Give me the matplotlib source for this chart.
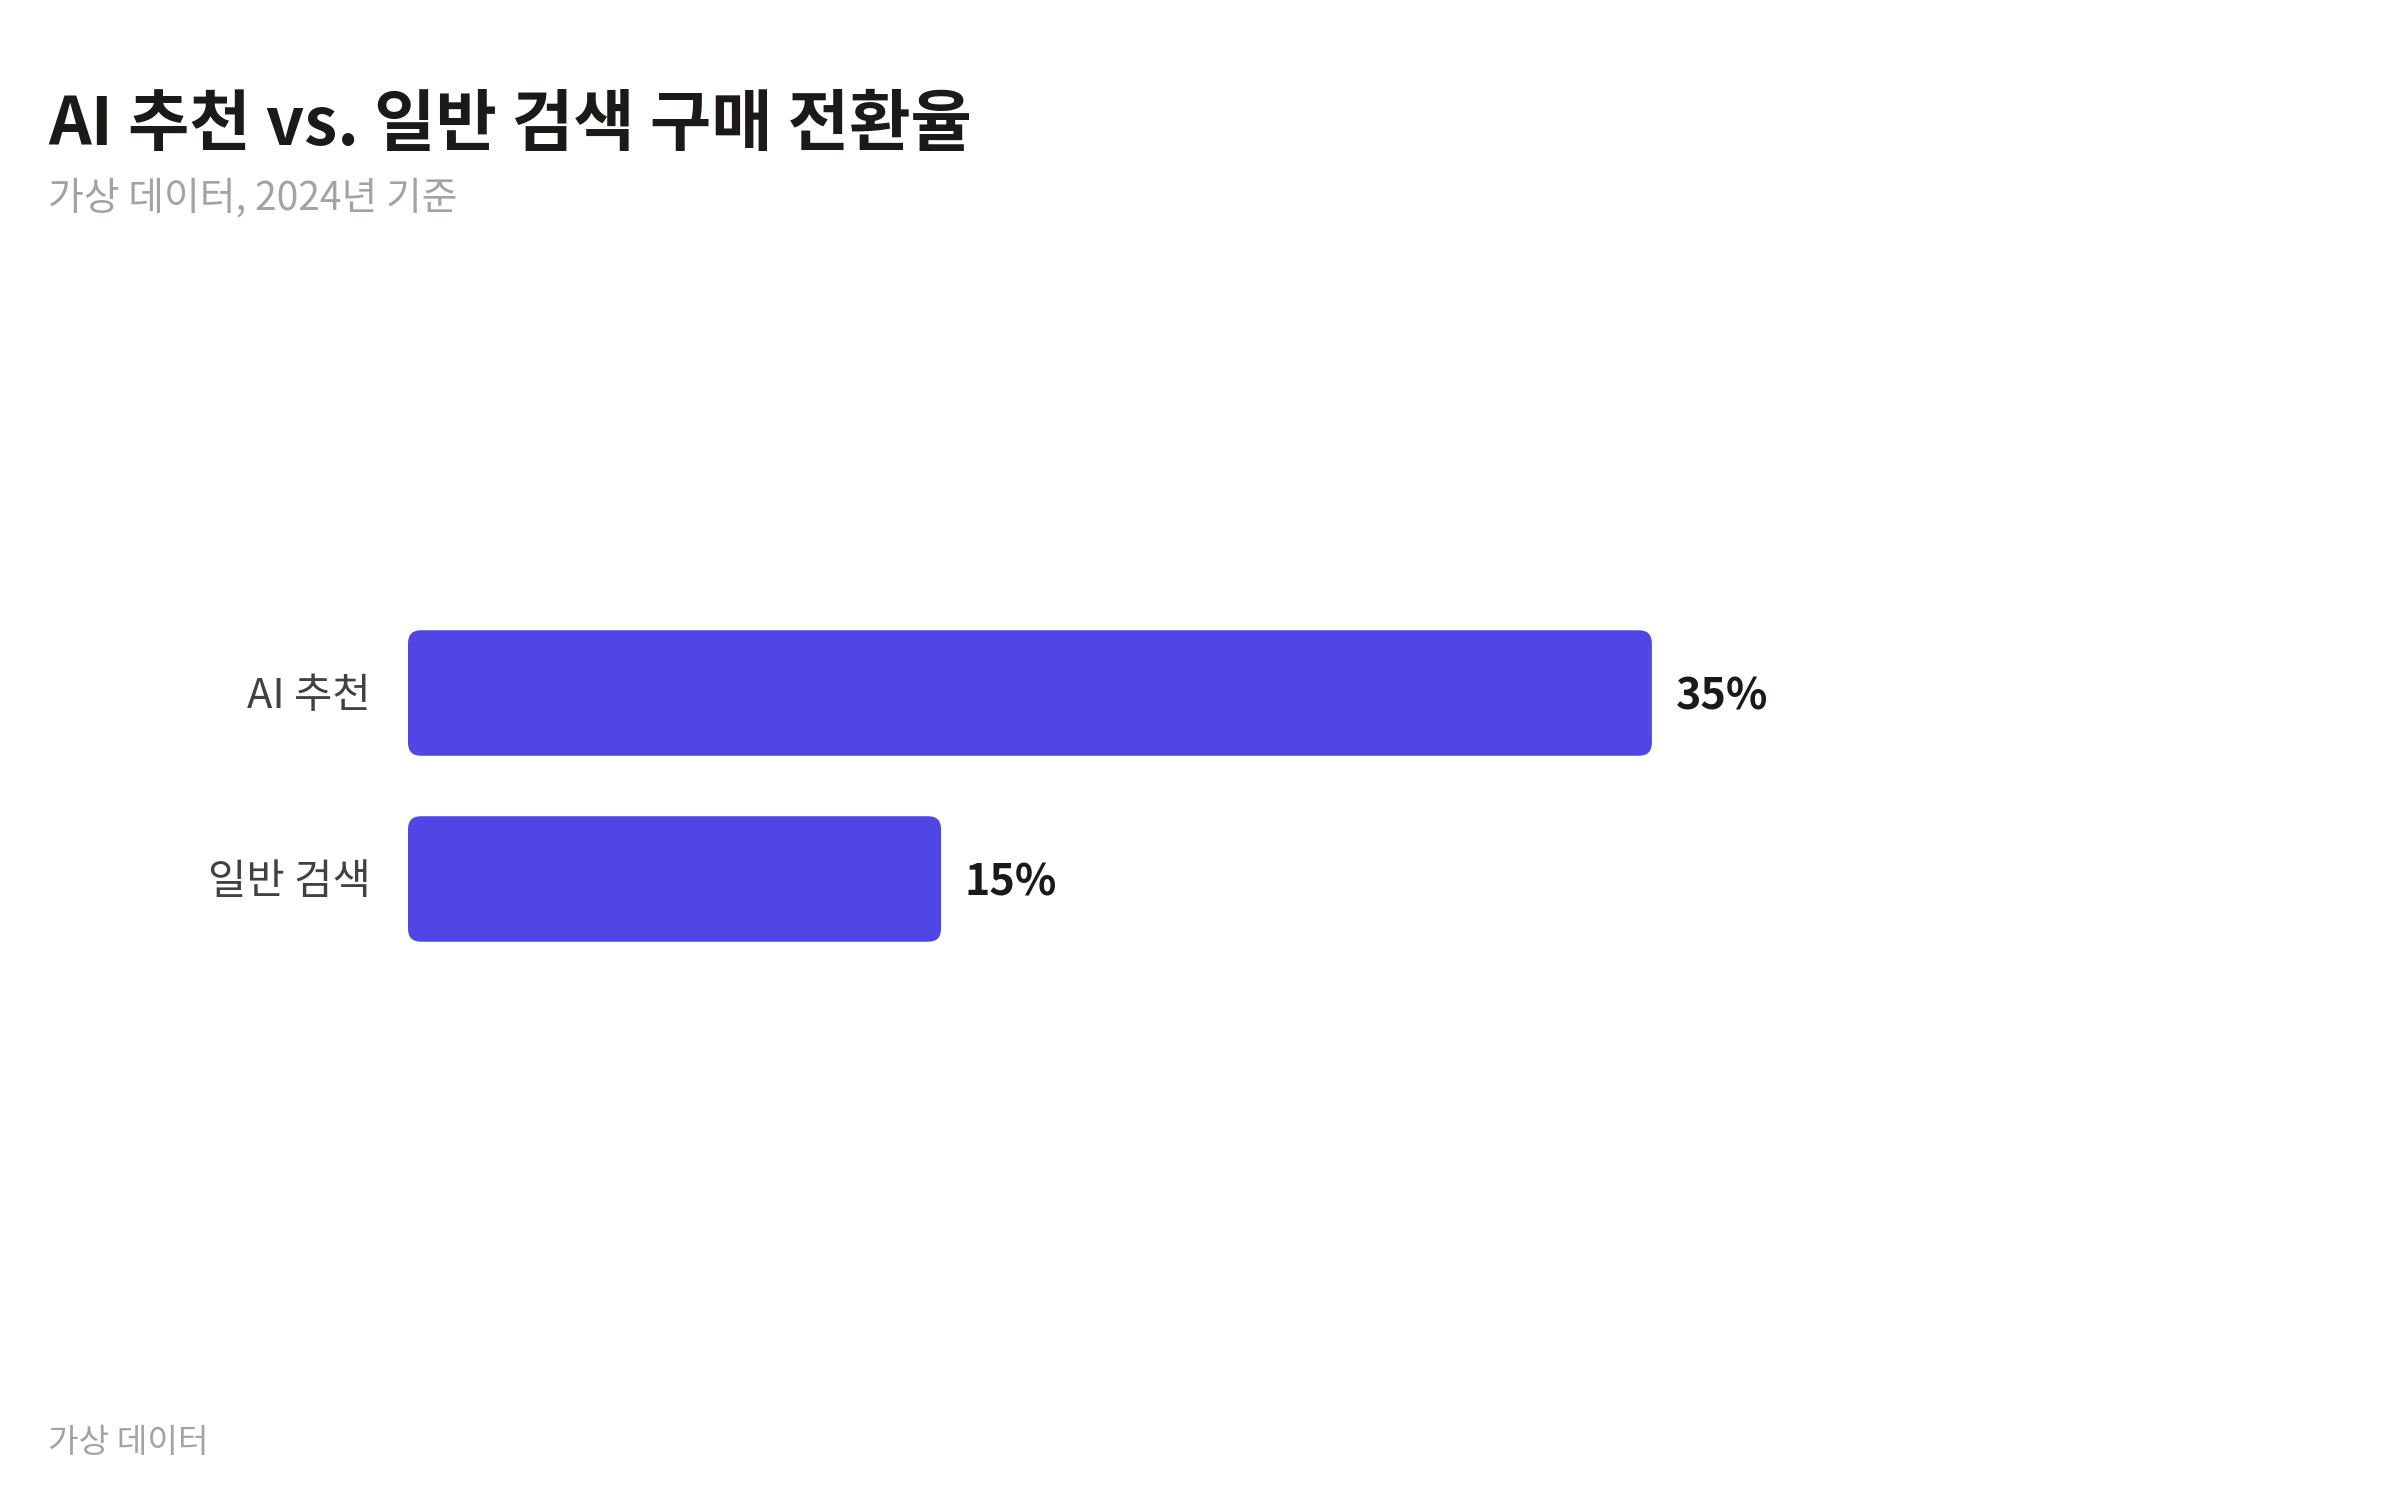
import matplotlib
matplotlib.use("Agg")
import matplotlib.pyplot as plt
from matplotlib.patches import FancyBboxPatch

plt.rcParams['font.family'] = ['Noto Sans CJK KR', 'DejaVu Sans']

categories = ['AI 추천', '일반 검색']
values = [35, 15]
value_labels = ['35%', '15%']

title = 'AI 추천 vs. 일반 검색 구매 전환율'
subtitle = '가상 데이터, 2024년 기준'
source = '가상 데이터'

BAR_COLOR = '#4f46e5'
TITLE_COLOR = '#1c1917'
LABEL_COLOR = '#44403c'
MUTED = '#a8a29e'

fig = plt.figure(figsize=(12, 7.5), dpi=200)
fig.patch.set_facecolor('white')

# axes placed so bars line up with the reference layout
ax = fig.add_axes([0.17, 0.096, 0.81, 0.76])
ax.set_xlim(0, 54.7)
ax.set_ylim(3.565, -2.565)
ax.axis('off')

bars = ax.barh(range(len(categories)), values, height=0.675, color=BAR_COLOR)

# swap plain rectangles for rounded ones
fig.canvas.draw()
x0, y0 = ax.transData.transform((0, 0))
x1, y1 = ax.transData.transform((1, 1))
px_x = abs(x1 - x0)
px_y = abs(y1 - y0)
radius_px = 13
for rect in bars:
    rect.set_visible(False)
    patch = FancyBboxPatch(
        (rect.get_x(), rect.get_y()), rect.get_width(), rect.get_height(),
        boxstyle=f"round,pad=0,rounding_size={radius_px / px_x}",
        mutation_aspect=px_x / px_y,
        facecolor=BAR_COLOR, edgecolor='none',
    )
    ax.add_patch(patch)

for i, (cat, val, lab) in enumerate(zip(categories, values, value_labels)):
    ax.annotate(cat, xy=(0, i), xytext=(-13.5, -1.2), textcoords='offset points',
                ha='right', va='center', fontsize=15, color=LABEL_COLOR)
    ax.annotate(lab, xy=(val, i), xytext=(8.6, -1.2), textcoords='offset points',
                ha='left', va='center', fontsize=15.5, fontweight='bold',
                color=TITLE_COLOR)

fig.text(0.02, 0.9033, title, fontsize=24, fontweight='bold',
         color=TITLE_COLOR, va='baseline', ha='left')
fig.text(0.02, 0.86, subtitle, fontsize=14, color=MUTED,
         va='baseline', ha='left')
fig.text(0.02, 0.032, source, fontsize=12, color=MUTED,
         va='baseline', ha='left')

fig.savefig('out.png', dpi=200, facecolor='white')
